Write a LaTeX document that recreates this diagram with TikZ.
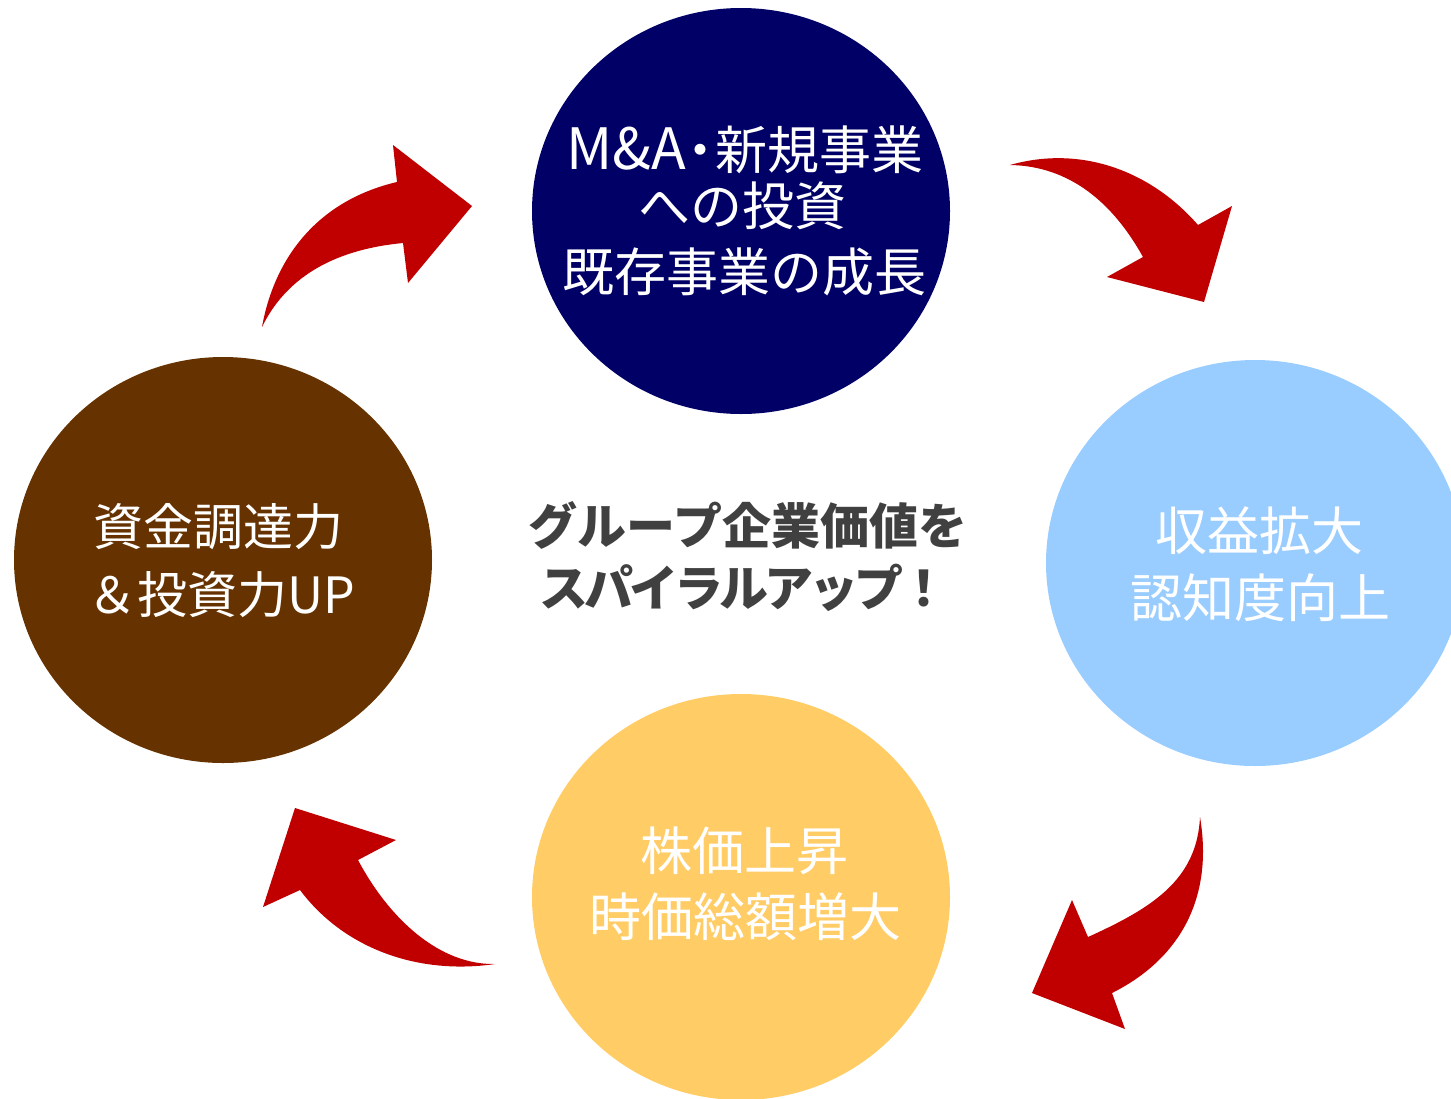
\documentclass[tikz,border=0pt]{standalone}
\usepackage{fontspec}
\usetikzlibrary{shapes.geometric}
\newfontfamily\jp{Noto Sans CJK JP}
\definecolor{cNavy}{HTML}{000066}
\definecolor{cSky}{HTML}{99CCFF}
\definecolor{cGold}{HTML}{FFCC66}
\definecolor{cBrown}{HTML}{663300}
\definecolor{cArrow}{HTML}{C00000}
\definecolor{cText}{HTML}{404040}
\begin{document}
\begin{tikzpicture}[x=1pt,y=-1pt,
  bubble/.style={ellipse, minimum width=418pt, minimum height=406pt, inner sep=0pt, draw=none},
  lbl/.style={font=\jp\fontsize{52}{60}\selectfont, text=white, inner sep=0pt},
  lblsmall/.style={font=\jp\fontsize{50}{58}\selectfont, text=white, inner sep=0pt},
  headline/.style={font=\jp\bfseries\fontsize{49}{56}\selectfont, text=cText, inner sep=0pt},
  blockarrow/.style={fill=cArrow, draw=none}]
\useasboundingbox (0,0) rectangle (1451,1098);

% circles
\node[bubble, fill=cNavy]  (invest) at (741,211) {};
\node[bubble, fill=cSky]   (profit) at (1255,563) {};
\node[bubble, fill=cGold]  (stock)  at (741,897) {};
\node[bubble, fill=cBrown] (fund)   at (223,560) {};

% texts
\node[lbl] (inv1) at (745,150) {{\fontsize{57}{60}\selectfont M\&A}\kern-0.22em・\kern-0.22em新規事業};
\node[lbl] (inv2) at (742,206) {への投資};
\node[lbl] (inv3) at (744,272) {既存事業の成長};

\node[lbl] (pro1) at (1259,531) {収益拡大};
\node[lbl] (pro2) at (1260,598) {認知度向上};

\node[lbl] (sto1) at (744,851) {株価上昇};
\node[lbl] (sto2) at (745,917) {時価総額増大};

\node[lblsmall] (fun1) at (218,527) {資金調達力};
\node[lblsmall] (fun2) at (221,595) {＆投資力UP};

\node[headline] (mid1) at (748,525) {グループ企業価値を};
\node[headline] (mid2) at (744,588) {\addfontfeatures{LetterSpace=-8}スパイラルアップ！};

% curved block arrows
\fill[blockarrow] (262,327) .. controls (275,255) and (320,200) .. (397,182)
  -- (393,145) -- (472,206) -- (408,283) -- (403,243)
  .. controls (330,250) and (285,280) .. (262,327) -- cycle;
\fill[blockarrow] (1010,165) .. controls (1080,145) and (1150,170) .. (1198,225)
  -- (1232,206) -- (1204,302) -- (1107,277) -- (1143,257)
  .. controls (1113,203) and (1070,166) .. (1010,165) -- cycle;
\fill[blockarrow] (1200,817) .. controls (1214,900) and (1178,960) .. (1112,993)
  -- (1125,1029) -- (1032,993) -- (1072,900) -- (1088,937)
  .. controls (1152,908) and (1197,880) .. (1200,817) -- cycle;
\fill[blockarrow] (495,964) .. controls (420,975) and (345,950) .. (300,890)
  -- (263,907) -- (295,808) -- (396,840) -- (358,860)
  .. controls (390,920) and (440,965) .. (495,964) -- cycle;
\end{tikzpicture}
\end{document}
